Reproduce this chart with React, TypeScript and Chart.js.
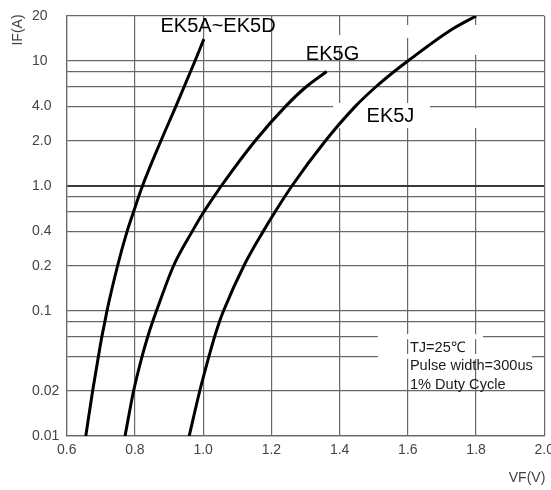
import React, { useEffect, useRef } from 'react';
import { Chart, registerables, LinearScale } from 'chart.js';

// ---------- data ----------
const VF_TICKS = [0.6, 0.8, 1.0, 1.2, 1.4, 1.6, 1.8, 2.0];
const IF_GRID = [0.01, 0.02, 0.04, 0.06, 0.08, 0.1, 0.2, 0.4, 0.6, 0.8, 1, 2, 4, 6, 8, 10, 20];
const IF_LABELED = [0.01, 0.02, 0.1, 0.2, 0.4, 1, 2, 4, 10, 20];

// chart-paper mantissa ruling (fraction of one decade per mantissa)
const PAPER_MANTISSA = [1, 2, 4, 6, 8, 10];
const PAPER_FRACTION = [0, 0.36, 0.637, 0.794, 0.916, 1];

const EK5A_IF = [0.01, 0.02, 0.04, 0.06, 0.08, 0.1, 0.2, 0.4, 0.6, 1, 2, 4, 10, 14];
const EK5A_VF = [0.656, 0.676, 0.693, 0.703, 0.712, 0.718, 0.749, 0.777, 0.796, 0.822, 0.876, 0.920, 0.976, 1.002];

const EK5G_IF = [0.01, 0.02, 0.04, 0.06, 0.08, 0.1, 0.2, 0.4, 0.6, 0.8, 1, 2, 4, 6, 8];
const EK5G_VF = [0.771, 0.796, 0.821, 0.8375, 0.852, 0.863, 0.913, 0.968, 1.002, 1.032, 1.053, 1.152, 1.2415, 1.302, 1.362];

const EK5J_IF = [0.01, 0.02, 0.04, 0.06, 0.08, 0.1, 0.2, 0.4, 0.6, 1, 2, 4, 6, 8, 10, 16, 20];
const EK5J_VF = [0.959, 0.990, 1.017, 1.0335, 1.048, 1.0595, 1.119, 1.176, 1.211, 1.260, 1.358, 1.446, 1.5065, 1.560, 1.600, 1.724, 1.800];

const SERIES_NAMES = ['EK5A~EK5D', 'EK5G', 'EK5J'];
// label anchors (left edge VF, middle IF)
const LABEL_VF = [0.875, 1.301, 1.479];
const LABEL_IF = [17, 11, 3.25];

const NOTE_LINES = ['TJ=25\u2103', 'Pulse width=300us', '1% Duty Cycle'];
const NOTE_VF = 1.606;
const NOTE_IF = 0.0476;

// blank patches of the paper around labels [vf0, vf1, if0, if1]
const PAPER_GAPS = [
  [1.381, 1.665, 2.59, 4.29],
  [1.79, 1.81, 2.6, 3.85],
  [1.39, 1.41, 12.2, 14.9],
  [1.59, 1.61, 14.25, 17.4],
  [1.79, 1.81, 11.0, 17.4],
  [1.512, 1.82, 0.057, 0.063],
  [1.512, 1.964, 0.038, 0.042],
];

const FONT = '"Liberation Sans", Arial, sans-serif';

// ---------- chart-paper scale ----------
function paperDecades(v: number): number {
  const e = Math.floor(Math.log10(v) + 1e-9);
  const m = v / Math.pow(10, e);
  let i = 0;
  while (i < PAPER_MANTISSA.length - 2 && m > PAPER_MANTISSA[i + 1]) i++;
  const t = Math.log(m / PAPER_MANTISSA[i]) / Math.log(PAPER_MANTISSA[i + 1] / PAPER_MANTISSA[i]);
  return e + PAPER_FRACTION[i] + t * (PAPER_FRACTION[i + 1] - PAPER_FRACTION[i]);
}
function paperValue(d: number): number {
  const e = Math.floor(d);
  const f = d - e;
  let i = 0;
  while (i < PAPER_FRACTION.length - 2 && f > PAPER_FRACTION[i + 1]) i++;
  const t = (f - PAPER_FRACTION[i]) / (PAPER_FRACTION[i + 1] - PAPER_FRACTION[i]);
  const m = PAPER_MANTISSA[i] * Math.pow(PAPER_MANTISSA[i + 1] / PAPER_MANTISSA[i], t);
  return m * Math.pow(10, e);
}

class ChartPaperScale extends LinearScale {
  static id = 'chartpaper';
  buildTicks() {
    return IF_GRID.map((value) => ({ value }));
  }
  configure() {
    super.configure();
    (this as any)._lo = paperDecades((this as any).min);
    (this as any)._hi = paperDecades((this as any).max);
  }
  getPixelForValue(value: number) {
    const lo = (this as any)._lo, hi = (this as any)._hi;
    return this.getPixelForDecimal((paperDecades(value) - lo) / (hi - lo));
  }
  getValueForPixel(pixel: number) {
    const lo = (this as any)._lo, hi = (this as any)._hi;
    return paperValue(lo + this.getDecimalForPixel(pixel) * (hi - lo));
  }
}

Chart.register(...registerables, ChartPaperScale as any);

const toPoints = (vf: number[], iff: number[]) => vf.map((x, i) => ({ x, y: iff[i] }));

const paperPlugin = {
  id: 'paperAnnotations',
  beforeDatasetsDraw(chart: any) {
    const { ctx, scales } = chart;
    const x = scales.x, y = scales.y;
    ctx.save();
    ctx.fillStyle = '#ffffff';
    PAPER_GAPS.forEach(([a, b, c, d]) => {
      const x0 = x.getPixelForValue(a), x1 = x.getPixelForValue(b);
      const y0 = y.getPixelForValue(d), y1 = y.getPixelForValue(c);
      ctx.fillRect(x0, y0, x1 - x0, y1 - y0);
    });
    ctx.restore();
  },
  afterDatasetsDraw(chart: any) {
    const { ctx, scales } = chart;
    const x = scales.x, y = scales.y;
    ctx.save();
    ctx.fillStyle = '#000';
    ctx.textBaseline = 'middle';
    ctx.textAlign = 'left';
    ctx.font = `20px ${FONT}`;
    SERIES_NAMES.forEach((n, i) => {
      ctx.fillText(n, x.getPixelForValue(LABEL_VF[i]), y.getPixelForValue(LABEL_IF[i]));
    });
    ctx.font = `14.6px ${FONT}`;
    ctx.fillStyle = '#1a1a1a';
    const nx = x.getPixelForValue(NOTE_VF);
    const ny = y.getPixelForValue(NOTE_IF);
    NOTE_LINES.forEach((t, i) => ctx.fillText(t, nx, ny + i * 18.5));
    // axis titles
    ctx.fillStyle = '#444';
    ctx.font = `14px ${FONT}`;
    ctx.textAlign = 'right';
    ctx.fillText('VF(V)', x.right + 1, 478);
    ctx.translate(18, y.top + 14);
    ctx.rotate(-Math.PI / 2);
    ctx.textAlign = 'center';
    ctx.fillText('IF(A)', 0, 0);
    ctx.restore();
  },
};

export default function App() {
  const ref = useRef<HTMLCanvasElement>(null);
  useEffect(() => {
    if (!ref.current) return;
    const line = { borderColor: '#000', borderWidth: 3, pointRadius: 0, cubicInterpolationMode: 'monotone' as const, fill: false };
    const chart = new Chart(ref.current, {
      type: 'line',
      data: {
        datasets: [
          { label: SERIES_NAMES[0], data: toPoints(EK5A_VF, EK5A_IF), ...line },
          { label: SERIES_NAMES[1], data: toPoints(EK5G_VF, EK5G_IF), ...line },
          { label: SERIES_NAMES[2], data: toPoints(EK5J_VF, EK5J_IF), ...line },
        ],
      },
      options: {
        animation: false,
        responsive: false,
        devicePixelRatio: 1,
        layout: { padding: { left: 32, top: 16, right: 6.7, bottom: 0 } },
        plugins: { legend: { display: false }, tooltip: { enabled: false } },
        scales: {
          x: {
            type: 'linear',
            min: VF_TICKS[0],
            max: VF_TICKS[VF_TICKS.length - 1],
            afterBuildTicks: (s: any) => { s.ticks = VF_TICKS.map((value) => ({ value })); },
            afterFit: (s: any) => { s.paddingLeft = 0; s.paddingRight = 0; s.height = 54; },
            grid: { color: '#686868', lineWidth: 1.2, drawTicks: false },
            border: { display: true, color: '#686868', width: 1.2 },
            ticks: {
              autoSkip: false,
              maxRotation: 0,
              padding: 6,
              color: '#444',
              font: { family: FONT, size: 14 },
              callback: (v: any) => Number(v).toFixed(1),
            },
          },
          y: {
            type: 'chartpaper' as any,
            min: IF_GRID[0],
            max: IF_GRID[IF_GRID.length - 1],
            afterFit: (s: any) => { s.paddingTop = 0; s.paddingBottom = 0; s.width = 34.7; },
            grid: {
              color: (c: any) => (c.tick && c.tick.value === 1 ? '#3a3a3a' : '#686868'),
              lineWidth: (c: any) => (c.tick && c.tick.value === 1 ? 2 : 1.2),
              drawTicks: false,
            },
            border: { display: true, color: '#686868', width: 1.2 },
            ticks: {
              autoSkip: false,
              crossAlign: 'far',
              padding: 4,
              color: '#444',
              font: { family: FONT, size: 14 },
              callback: (v: any) => {
                const n = Number(v);
                if (!IF_LABELED.includes(n)) return '';
                return n >= 1 && n < 10 ? n.toFixed(1) : String(n);
              },
            },
          } as any,
        },
      },
      plugins: [paperPlugin],
    });
    return () => chart.destroy();
  }, []);
  return (
    <div style={{ position: 'absolute', left: 0, top: 0, width: 551, height: 490 }}>
      <canvas ref={ref} width={551} height={490} />
    </div>
  );
}
